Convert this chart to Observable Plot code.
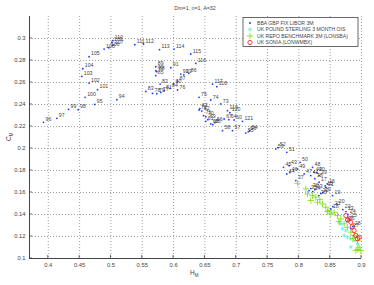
<!DOCTYPE html>
<html><head><meta charset="utf-8">
<script src="https://cdn.jsdelivr.net/npm/d3@7"></script>
<script src="https://cdn.jsdelivr.net/npm/@observablehq/plot@0.6"></script>
<style>body{margin:0;background:#fff;} #chart{position:relative;width:374px;height:285px;}</style>
</head><body><div id="chart"></div>
<script>
const title = "Dm=1, n=1, A=32";
const xLabelMain = "H", xLabelSub = "M";
const yLabelMain = "C", yLabelSub = "M";
const xTicks = [0.4, 0.45, 0.5, 0.55, 0.6, 0.65, 0.7, 0.75, 0.8, 0.85, 0.9];
const yTicks = [0.1, 0.12, 0.14, 0.16, 0.18, 0.2, 0.22, 0.24, 0.26, 0.28, 0.3];
const seriesNames = ["BBA GBP FIX LIBOR 3M", "UK POUND STERLING 3 MONTH OIS", "UK REPO BENCHMARK 3M (LONSBA)", "UK SONIA (LONWMBX)"];

const liborLabels = [96,97,99,98,100,95,94,101,102,103,104,105,108,106,107,109,110,111,112,113,114,115,116,89,90,88,85,91,92,93,86,87,82,80,84,83,78,79,77,81,76,117,118,75,74,73,72,63,62,71,70,69,61,68,65,66,119,120,67,64,60,121,58,57,55,56,54,53,52,51,50,45,43,44,46,49,47,48,42,41,40,39,38,37,17,16,15,35,36,34,33,32,31,30,29,19,20,18,21,22,23,24,25,26,27,28];
const liborH = [.3924,.4136,.4323,.4476,.4588,.4742,.5094,.4786,.4651,.4535,.4551,.4651,.4891,.4966,.5030,.5014,.5030,.5381,.5520,.5775,.6008,.6275,.6355,.5716,.5716,.5732,.5716,.5956,.6115,.6163,.6243,.6063,.5785,.5999,.5944,.5557,.5664,.5732,.5796,.5849,.6063,.6621,.6690,.6407,.6594,.6754,.6407,.6419,.6450,.6478,.6514,.6546,.6514,.6594,.6626,.6658,.6861,.6898,.6807,.6882,.6966,.7100,.6781,.6941,.7153,.7193,.7217,.7632,.7664,.7808,.8020,.7755,.7844,.7808,.7855,.7978,.8084,.8218,.8243,.8190,.8286,.8323,.8255,.7951,.8323,.8453,.8420,.8163,.8190,.8222,.8255,.8351,.8431,.8319,.8383,.8537,.8606,.8510,.8542,.8702,.8751,.8782,.8798,.8766,.8830,.8862];
const liborC = [.2238,.2274,.2356,.2353,.2465,.2401,.2444,.2535,.2595,.2655,.2725,.2834,.2904,.2916,.2940,.2964,.2980,.2943,.2950,.2898,.2904,.2859,.2773,.2743,.2707,.2698,.2662,.2734,.2677,.2670,.2683,.2607,.2586,.2586,.2546,.2519,.2501,.2498,.2510,.2525,.2532,.2586,.2562,.2465,.2441,.2405,.2350,.2362,.2340,.2298,.2289,.2262,.2247,.2223,.2217,.2235,.2344,.2326,.2268,.2262,.2259,.2247,.2162,.2162,.2140,.2153,.2162,.1996,.2008,.1965,.1874,.1829,.1844,.1769,.1781,.1814,.1769,.1829,.1784,.1754,.1781,.1754,.1726,.1708,.1693,.1678,.1660,.1617,.1636,.1608,.1626,.1590,.1647,.1572,.1599,.1572,.1497,.1451,.1472,.1445,.1427,.1400,.1363,.1336,.1270,.1291];

const oisH = [.8643,.8670,.8697,.8750,.8722,.8776,.8829,.8882,.8936,.8829];
const oisC = [.1330,.1315,.1270,.1254,.1209,.1193,.1179,.1163,.1133,.1103];

const repoH = [.7978,.8111,.8138,.8218,.8271,.8191,.8298,.8335,.8377,.8430,.8457,.8483,.8510,.8563,.8617,.8638,.8670,.8722,.8776,.8829,.8862,.8882,.8936,.8942,.8962,.8988,.8909];
const repoC = [.1684,.1633,.1587,.1572,.1557,.1527,.1511,.1536,.1497,.1466,.1427,.1436,.1406,.1420,.1390,.1336,.1360,.1315,.1284,.1239,.1182,.1209,.1163,.1082,.1103,.1073,.1073];

const soniaH = [.8750,.8776,.8802,.8829,.8856,.8882,.8909,.8962,.8936];
const soniaC = [.1390,.1351,.1360,.1330,.1291,.1254,.1209,.1193,.1179];

const libor = liborLabels.map((l,i)=>({label:String(l), h:liborH[i], c:liborC[i]}));
const ois = oisH.map((h,i)=>({h, c:oisC[i]}));
const repo = repoH.map((h,i)=>({h, c:repoC[i]}));
const sonia = soniaH.map((h,i)=>({h, c:soniaC[i]}));

const colors = ["#1f3fff", "#66eedd", "#77dd11", "#ff1111"];
const fmt = d => String(d);

const plot = Plot.plot({
  width: 374, height: 285,
  marginLeft: 29, marginRight: 13, marginTop: 16, marginBottom: 27,
  style: {fontFamily: "'Liberation Sans', Arial, sans-serif", fontSize: "5.8px", background: "white", color: "#444"},
  x: {domain: [0.37, 0.9]},
  y: {domain: [0.1, 0.32]},
  marks: [
    Plot.gridX(xTicks, {stroke: "#777", strokeOpacity: 1, strokeWidth: 0.7, strokeDasharray: "1,2"}),
    Plot.gridY(yTicks, {stroke: "#777", strokeOpacity: 1, strokeWidth: 0.7, strokeDasharray: "1,2"}),
    Plot.axisX(xTicks, {tickSize: 0, tickPadding: 4, tickFormat: fmt, label: null}),
    Plot.axisY(yTicks, {tickSize: 0, tickPadding: 4, tickFormat: fmt, label: null}),
    Plot.ruleX([0.37], {stroke: "#444", strokeWidth: 1}),
    Plot.ruleY([0.1], {stroke: "#444", strokeWidth: 1}),
    Plot.dot(libor, {x: "h", y: "c", r: 0.9, fill: colors[0], stroke: null}),
    Plot.dot(ois, {x: "h", y: "c", r: 1.8, symbol: "asterisk", stroke: colors[1], strokeWidth: 0.8}),
    Plot.dot(repo, {x: "h", y: "c", r: 2.2, symbol: "plus", stroke: colors[2], strokeWidth: 0.8}),
    Plot.dot(sonia, {x: "h", y: "c", r: 2.1, symbol: "circle", stroke: colors[3], fill: "none", strokeWidth: 0.8}),
    Plot.text(libor, {x: "h", y: "c", text: "label", dx: 2, dy: -3, textAnchor: "start", fontSize: 5.2, fill: "#444"})
  ]
});
const svg = d3.select(plot);
document.getElementById("chart").appendChild(plot);
const sx = plot.scale("x"), sy = plot.scale("y");

// inward ticks
const tg = svg.append("g").attr("stroke", "#444").attr("stroke-width", 0.8);
xTicks.forEach(t => {
  const px = sx.apply(t), py = sy.apply(0.1);
  tg.append("line").attr("x1", px).attr("x2", px).attr("y1", py).attr("y2", py - 3);
});
yTicks.forEach(t => {
  const px = sx.apply(0.37), py = sy.apply(t);
  tg.append("line").attr("x1", px).attr("x2", px + 3).attr("y1", py).attr("y2", py);
});

// title
svg.append("text").attr("x", 195).attr("y", 10).attr("text-anchor", "middle")
  .attr("font-size", 5.3).attr("fill", "#444").text(title);
// x label
const xl = svg.append("text").attr("x", 190).attr("y", 275).attr("text-anchor", "start").attr("font-size", 6.5).attr("fill", "#444");
xl.append("tspan").text(xLabelMain);
xl.append("tspan").attr("font-size", 4.5).attr("dy", 1.5).text(xLabelSub);
// y label
const yl = svg.append("text").attr("transform", "translate(11,141) rotate(-90)").attr("text-anchor", "start").attr("font-size", 6.5).attr("fill", "#444");
yl.append("tspan").text(yLabelMain);
yl.append("tspan").attr("font-size", 4.5).attr("dy", 1.5).text(yLabelSub);

// legend
const lg = svg.append("g");
lg.append("rect").attr("x", 243).attr("y", 17.5).attr("width", 115).attr("height", 29)
  .attr("fill", "white").attr("stroke", "#444").attr("stroke-width", 0.8);
const rows = [23, 29.5, 36, 42.5];
const sym = [d3.symbolCircle, d3.symbolAsterisk, d3.symbolPlus, d3.symbolCircle];
const sizes = [3, 12, 14, 14];
seriesNames.forEach((name, i) => {
  const p = lg.append("path").attr("transform", `translate(250,${rows[i]})`)
    .attr("d", d3.symbol(sym[i], sizes[i])());
  if (i === 0) p.attr("fill", colors[0]);
  else p.attr("fill", "none").attr("stroke", colors[i]).attr("stroke-width", 0.8);
  lg.append("text").attr("x", 257).attr("y", rows[i] + 1.8).attr("text-anchor", "start").attr("font-size", 5.1)
    .attr("textLength", null).attr("fill", "#444").text(name);
});
</script>
</body></html>
